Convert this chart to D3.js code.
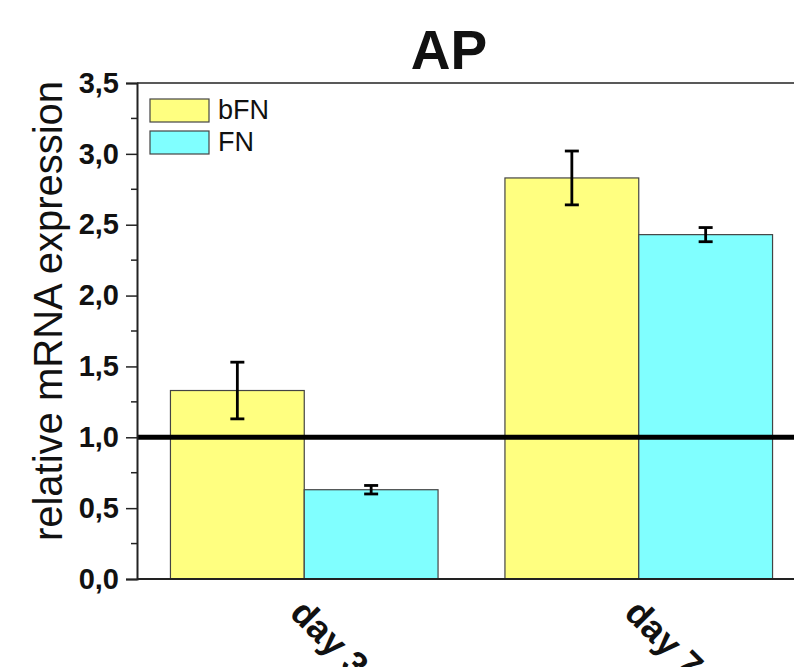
<!DOCTYPE html>
<html>
<head>
<meta charset="utf-8">
<script src="https://cdn.jsdelivr.net/npm/d3@7"></script>
<style>
  body { margin: 0; background: #fff; }
  svg { display: block; font-family: Arial, 'Liberation Sans', sans-serif; }
</style>
</head>
<body>
<svg id="chart" width="794" height="667"></svg>
<script>
const categories = ['day 3', 'day 7'];
const seriesNames = ['bFN', 'FN'];
const bfnValues = [1.33, 2.83];
const bfnErrors = [0.20, 0.19];
const fnValues = [0.63, 2.43];
const fnErrors = [0.03, 0.05];
const yTicks = [0, 0.5, 1.0, 1.5, 2.0, 2.5, 3.0, 3.5];
const colors = ['#ffff80', '#80ffff'];

const svg = d3.select('#chart');
const plotLeft = 137, plotTop = 83, plotBottom = 579, plotRight = 806;

const x = d3.scaleBand()
  .domain(categories)
  .range([plotLeft, plotRight])
  .paddingInner(0.2)
  .paddingOuter(0.1);

const xSub = d3.scaleBand()
  .domain(seriesNames)
  .range([0, x.bandwidth()]);

const y = d3.scaleLinear()
  .domain([0, 3.5])
  .range([plotBottom, plotTop]);

const fmt = d => d3.format('.1f')(d).replace('.', ',');

const data = categories.map((c, i) => ({
  cat: c,
  vals: [
    { name: 'bFN', v: bfnValues[i], e: bfnErrors[i], color: colors[0] },
    { name: 'FN', v: fnValues[i], e: fnErrors[i], color: colors[1] }
  ]
}));

// bars
const groups = svg.append('g').selectAll('g')
  .data(data)
  .enter()
  .append('g')
  .attr('transform', d => `translate(${x(d.cat)},0)`);

groups.selectAll('rect')
  .data(d => d.vals)
  .enter()
  .append('rect')
  .attr('x', d => xSub(d.name))
  .attr('y', d => y(d.v))
  .attr('width', xSub.bandwidth())
  .attr('height', d => y(0) - y(d.v))
  .attr('fill', d => d.color)
  .attr('stroke', '#444')
  .attr('stroke-width', 1.2);

// error bars
const err = groups.selectAll('g.err')
  .data(d => d.vals)
  .enter()
  .append('g')
  .attr('class', 'err')
  .attr('stroke', '#000')
  .attr('stroke-width', 2.8);

const cx = d => xSub(d.name) + xSub.bandwidth() / 2;
err.append('line')
  .attr('x1', cx).attr('x2', cx)
  .attr('y1', d => y(d.v + d.e)).attr('y2', d => y(d.v - d.e));
err.append('line')
  .attr('x1', d => cx(d) - 7).attr('x2', d => cx(d) + 7)
  .attr('y1', d => y(d.v + d.e)).attr('y2', d => y(d.v + d.e));
err.append('line')
  .attr('x1', d => cx(d) - 7).attr('x2', d => cx(d) + 7)
  .attr('y1', d => y(d.v - d.e)).attr('y2', d => y(d.v - d.e));

// reference line at 1,0
svg.append('line')
  .attr('x1', plotLeft).attr('x2', 794)
  .attr('y1', y(1)).attr('y2', y(1))
  .attr('stroke', '#000')
  .attr('stroke-width', 5);

// frame top & bottom
svg.append('line')
  .attr('x1', plotLeft).attr('x2', 794)
  .attr('y1', plotTop).attr('y2', plotTop)
  .attr('stroke', '#222').attr('stroke-width', 1.5);
svg.append('line')
  .attr('x1', plotLeft).attr('x2', 794)
  .attr('y1', plotBottom).attr('y2', plotBottom)
  .attr('stroke', '#222').attr('stroke-width', 2);

// y axis
const yAxis = d3.axisLeft(y)
  .tickValues(yTicks)
  .tickFormat(fmt)
  .tickSize(11)
  .tickPadding(7);

const yg = svg.append('g')
  .attr('transform', `translate(${plotLeft},0)`)
  .call(yAxis);
yg.select('.domain').attr('stroke', '#222').attr('stroke-width', 2);
yg.selectAll('.tick line').attr('stroke', '#222').attr('stroke-width', 1.5);
yg.selectAll('.tick text')
  .attr('font-size', 29)
  .attr('font-weight', 'bold')
  .attr('font-family', 'Arial, sans-serif')
  .attr('fill', '#111');

// minor ticks
const minor = d3.range(0.25, 3.5, 0.5);
svg.append('g').selectAll('line')
  .data(minor)
  .enter()
  .append('line')
  .attr('x1', plotLeft - 6).attr('x2', plotLeft)
  .attr('y1', d => y(d)).attr('y2', d => y(d))
  .attr('stroke', '#222').attr('stroke-width', 1.5);

// y label
svg.append('text')
  .attr('transform', 'translate(62,311) rotate(-90)')
  .attr('text-anchor', 'middle')
  .attr('font-size', 40)
  .attr('fill', '#111')
  .text('relative mRNA expression');

// title
svg.append('text')
  .attr('x', 449)
  .attr('y', 69)
  .attr('text-anchor', 'middle')
  .attr('font-size', 55)
  .attr('font-weight', 'bold')
  .attr('fill', '#111')
  .text('AP');

// x labels
svg.append('g').selectAll('text')
  .data(categories)
  .enter()
  .append('text')
  .attr('transform', d => `translate(${x(d) + x.bandwidth() / 2 + 2},${plotBottom + 18}) rotate(45)`)
  .attr('font-size', 36)
  .attr('font-weight', 'bold')
  .attr('fill', '#111')
  .attr('dy', '0.7em')
  .text(d => d);

// legend
const legend = svg.append('g')
  .selectAll('g')
  .data(seriesNames)
  .enter()
  .append('g')
  .attr('transform', (d, i) => `translate(150,${99 + i * 32})`);
legend.append('rect')
  .attr('width', 59).attr('height', 23)
  .attr('fill', (d, i) => colors[i])
  .attr('stroke', '#444').attr('stroke-width', 1.2);
legend.append('text')
  .attr('x', 68).attr('y', 20)
  .attr('font-size', 27)
  .attr('fill', '#111')
  .text(d => d);
</script>
</body>
</html>
